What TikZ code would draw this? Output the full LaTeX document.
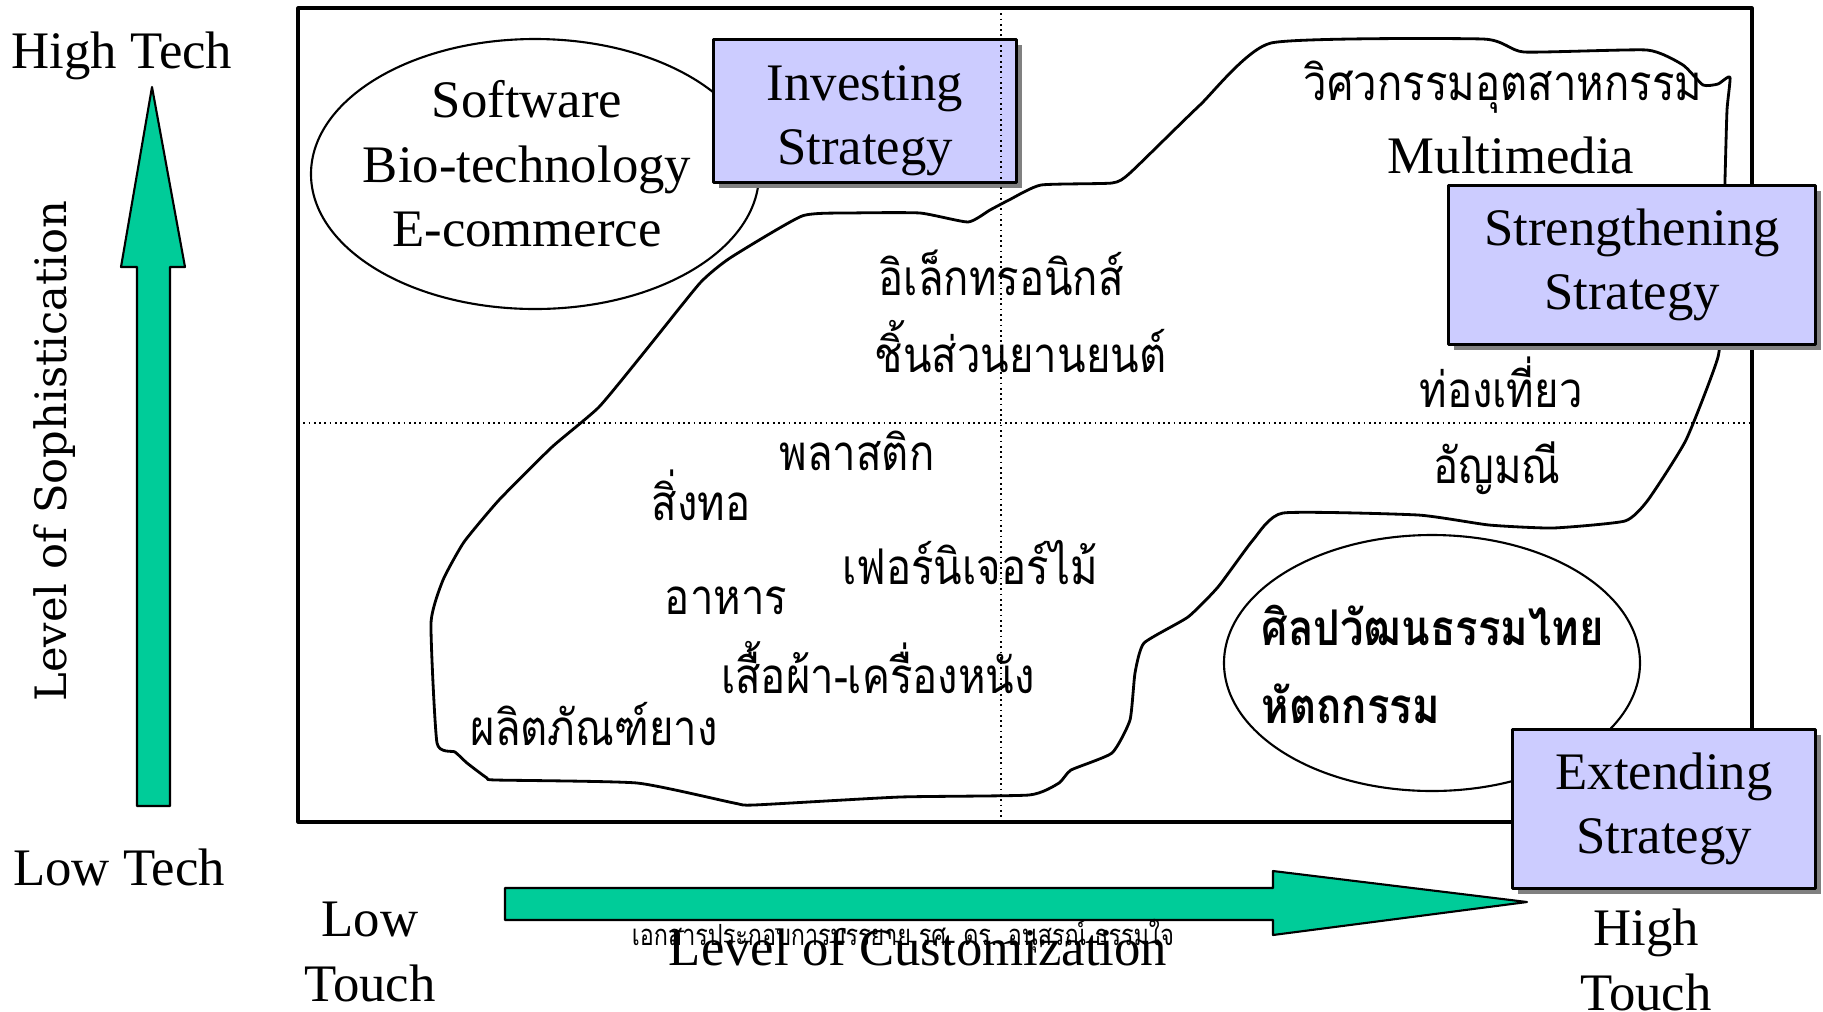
\documentclass[tikz,border=0pt]{standalone}
\usepackage{fontspec}
\setmainfont{Liberation Serif}
\newfontfamily\thaifont[Script=Thai, FakeStretch=0.85]{Loma}
\newfontfamily\notefont[Script=Thai, FakeStretch=0.8]{Loma}
\newfontfamily\widefont{DejaVu Serif}
\usetikzlibrary{shadows}
\definecolor{arrowgreen}{RGB}{0,204,153}
\definecolor{boxblue}{RGB}{204,204,255}
\tikzstyle{strategy} = [draw, fill=boxblue, line width=0.8pt, align=center, inner sep=0pt,
  drop shadow={shadow xshift=1.5pt, shadow yshift=-1.5pt, fill=black!50, opacity=1},
  font=\fontsize{15}{18.2}\selectfont]
\tikzstyle{axistext} = [align=center, inner sep=0pt, font=\fontsize{15}{18.3}\selectfont]
\tikzstyle{thai} = [inner sep=0pt, font=\thaifont\fontsize{14}{17}\selectfont]
\tikzstyle{thaibold} = [inner sep=0pt, font=\thaifont\bfseries\fontsize{14}{17}\selectfont]
\tikzstyle{quadline} = [densely dotted, line width=0.5pt]
\tikzstyle{bigarrow} = [draw, fill=arrowgreen, line width=0.6pt]

\begin{document}
\begin{tikzpicture}[x=0.01cm, y=-0.01cm, line join=round]
    \useasboundingbox (0,0) rectangle (1823,1011);
    % frame and the two circled groups
    \draw [line width=0.9pt] (298,8) rectangle (1752,822);
    \draw [line width=0.6pt] (535,174) ellipse [x radius=224, y radius=135];
    \draw [line width=0.6pt] (1432,663) ellipse [x radius=208, y radius=128];
    % the big region of industries
    \draw [line width=0.8pt] plot [smooth cycle, tension=0.3] coordinates {
        (802,216) (851,213) (920,213) (968,222) (990,210) (1009,200) (1041,185)
        (1112,183) (1130,173) (1200,105) (1271,43) (1483,39) (1524,52) (1647,50)
        (1683,65) (1703,85) (1718,84) (1730,77) (1727,110) (1725,180) (1722,300)
        (1718,357) (1686,440) (1648,500) (1625,521) (1553,528) (1489,525)
        (1418,515) (1283,513) (1253,540) (1218,587) (1188,617) (1144,643)
        (1135,673) (1130,720) (1112,753) (1071,770) (1059,783) (1029,795)
        (900,797) (754,805) (734,803) (637,783) (496,780) (487,778) (467,763)
        (455,752) (437,743) (431,623) (443,580) (464,542) (499,500) (552,447)
        (599,407) (646,350) (700,283) (730,258)};

    % axes
    \draw [bigarrow] (137,806) -- (137,267) -- (121,267) -- (152,87) -- (185,267)
        -- (170,267) -- (170,806) -- cycle;
    \draw [bigarrow] (505,888) -- (1273,888) -- (1273,871) -- (1527,902) -- (1273,935)
        -- (1273,920) -- (505,920) -- cycle;
    \node [axistext] (hightech) at (122,56) {High Tech};
    \node [axistext] (lowtech) at (119,867) {Low Tech};
    \node [inner sep=0pt, rotate=90, font=\widefont\fontsize{12.3}{15}\selectfont]
        (sophistication) at (55,451) {Level of Sophistication};
    \node [axistext] (lowtouch) at (370,952) {Low\\Touch};
    \node [axistext] (hightouch) at (1646,960) {High\\Touch};
    \node [inner sep=0pt, font=\notefont\fontsize{8.3}{10}\selectfont] (credit) at (903,936)
        {เอกสารประกอบการบรรยาย รศ. ดร. อนุสรณ์ ธรรมใจ};
    \node [axistext] (customization) at (918,947) {Level of Customization};

    % industries
    \node [axistext] (software) at (527,164) {Software\\Bio-technology\\E-commerce};
    \node [thai] (industrial) at (1503,87) {วิศวกรรมอุตสาหกรรม};
    \node [axistext] (multimedia) at (1511,155) {Multimedia};
    \node [thai, anchor=west] (electronics) at (878,273) {อิเล็กทรอนิกส์};
    \node [thai, anchor=west] (autoparts) at (874,347) {ชิ้นส่วนยานยนต์};
    \node [thai] (tourism) at (1501,382) {ท่องเที่ยว};
    \node [thai] (jewelry) at (1497,468) {อัญมณี};
    \node [thai] (plastic) at (857,451) {พลาสติก};
    \node [thai] (textile) at (701,495) {สิ่งทอ};
    \node [thai] (furniture) at (970,563) {เฟอร์นิเจอร์ไม้};
    \node [thai] (food) at (726,601) {อาหาร};
    \node [thai] (garment) at (878,668) {เสื้อผ้า-เครื่องหนัง};
    \node [thai] (rubber) at (594,724) {ผลิตภัณฑ์ยาง};
    \node [thaibold, anchor=west] (culture) at (1261,625) {ศิลปวัฒนธรรมไทย};
    \node [thaibold, anchor=west] (handicraft) at (1261,704) {หัตถกรรม};

    % strategies
    \node [strategy, minimum width=3.03cm, minimum height=1.43cm] (investing)
        at (865,111) {};
    \node [axistext] (investingtext) at (865,121) {Investing\\Strategy};
    \node [strategy, minimum width=3.67cm, minimum height=1.59cm] (strengthening)
        at (1632,265) {Strengthening\\Strategy};
    \node [strategy, minimum width=3.03cm, minimum height=1.59cm] (extending)
        at (1664,809) {Extending\\Strategy};

    % quadrants
    \draw [quadline] (1001,8) -- (1001,822);
    \draw [quadline] (298,423) -- (1752,423);
\end{tikzpicture}
\end{document}
